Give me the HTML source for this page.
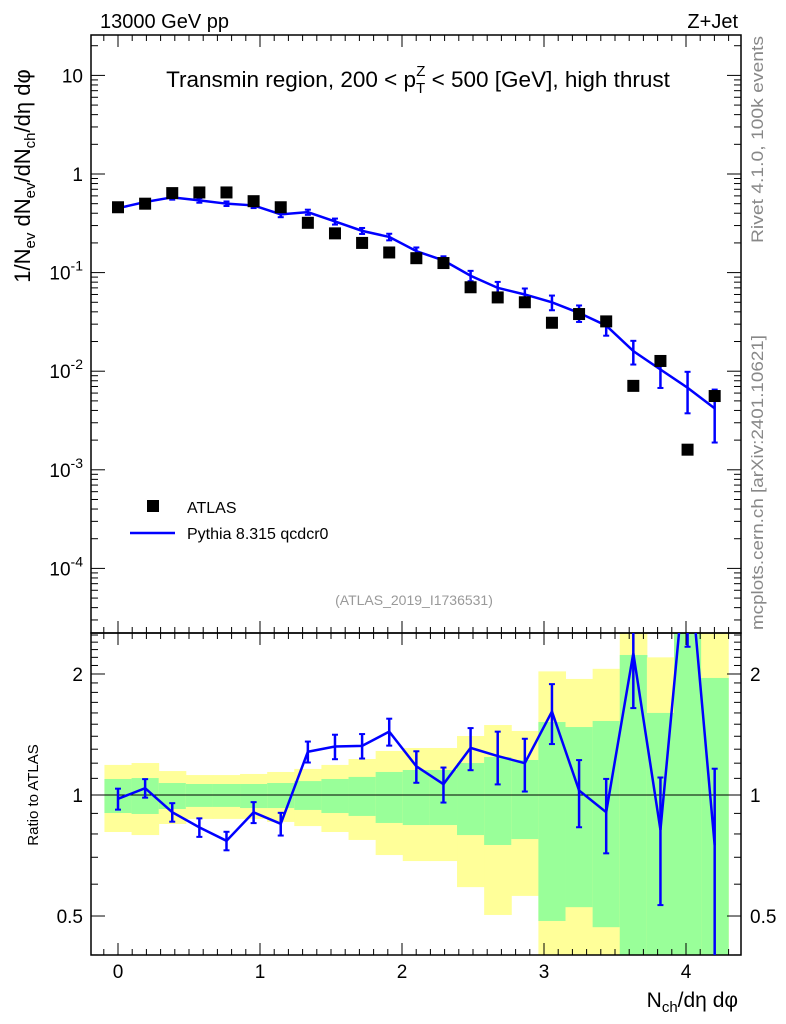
<!DOCTYPE html>
<html><head><meta charset="utf-8">
<style>
body{margin:0;background:#fff;}
svg{display:block;font-family:"Liberation Sans",Arial,sans-serif;}
</style></head>
<body>
<svg id="c" width="786" height="1024" viewBox="0 0 786 1024" xmlns="http://www.w3.org/2000/svg">
<text x="100" y="28" font-size="20">13000 GeV pp</text>
<text x="738" y="28" font-size="20" text-anchor="end">Z+Jet</text>
<text x="418" y="87" font-size="22.5" text-anchor="middle">Transmin region, 200 &lt; p<tspan font-size="15" dy="6">T</tspan><tspan font-size="15" dx="-9" dy="-17">Z</tspan><tspan dy="11"> &lt; 500 [GeV], high thrust</tspan></text>
<text transform="translate(763,243) rotate(-90)" font-size="17" fill="#888" textLength="207" lengthAdjust="spacingAndGlyphs">Rivet 4.1.0,  100k events</text>
<text transform="translate(763,630) rotate(-90)" font-size="17" fill="#888" textLength="295" lengthAdjust="spacingAndGlyphs">mcplots.cern.ch [arXiv:2401.10621]</text>
<text x="414" y="605" font-size="14" fill="#999" text-anchor="middle">(ATLAS_2019_I1736531)</text>
<text transform="translate(30,176) rotate(-90)" font-size="22" text-anchor="middle">1/N<tspan font-size="15" dy="5">ev</tspan><tspan dy="-5"> dN</tspan><tspan font-size="15" dy="5">ev</tspan><tspan dy="-5">/dN</tspan><tspan font-size="15" dy="5">ch</tspan><tspan dy="-5">/dη dφ</tspan></text>
<text transform="translate(38,795) rotate(-90)" font-size="15" text-anchor="middle">Ratio to ATLAS</text>
<text x="738" y="1007" font-size="21" text-anchor="end">N<tspan font-size="15" dy="5">ch</tspan><tspan dy="-5">/dη dφ</tspan></text>
<g id="bands"></g><g id="grid"></g><g id="marks"></g>
<g>
<rect x="147" y="500" width="12" height="12" fill="#000"/>
<text x="187" y="513" font-size="16">ATLAS</text>
<line x1="130" y1="533" x2="175" y2="533" stroke="#0000ff" stroke-width="2.5"/>
<text x="187" y="539" font-size="16">Pythia 8.315 qcdcr0</text>
</g>
</svg>
<script>
const xs=[0,0.191,0.382,0.573,0.764,0.955,1.146,1.337,1.528,1.719,1.91,2.101,2.292,2.483,2.674,2.865,3.056,3.247,3.438,3.629,3.82,4.011,4.202];
const atlas=[0.46,0.50,0.64,0.65,0.65,0.53,0.46,0.32,0.25,0.20,0.16,0.14,0.125,0.071,0.056,0.050,0.031,0.038,0.032,0.0071,0.0127,0.0016,0.0056];
const pythia=[0.45,0.52,0.58,0.54,0.50,0.48,0.39,0.41,0.33,0.265,0.23,0.165,0.133,0.093,0.07,0.06,0.05,0.039,0.029,0.0160,0.0104,0.0068,0.0042];
const pythiaErr=[0.06,0.053,0.053,0.053,0.053,0.06,0.065,0.06,0.07,0.07,0.077,0.09,0.1,0.12,0.15,0.15,0.17,0.19,0.21,0.27,0.35,0.45,0.55];
const greenUp=[1.096,1.102,1.071,1.065,1.065,1.065,1.071,1.083,1.096,1.109,1.141,1.154,1.154,1.201,1.243,1.222,1.519,1.476,1.528,2.23,1.6,3,1.955];
const greenDn=[0.902,0.897,0.923,0.934,0.934,0.928,0.928,0.918,0.902,0.887,0.852,0.842,0.842,0.795,0.751,0.777,0.486,0.526,0.469,0.3,0.3,0.3,0.3];
const yellowUp=[1.188,1.201,1.147,1.121,1.121,1.128,1.141,1.161,1.188,1.229,1.287,1.309,1.309,1.402,1.493,1.443,2.03,1.944,2.06,3,2.2,3,3];
const yellowDn=[0.809,0.795,0.847,0.872,0.872,0.872,0.857,0.837,0.809,0.773,0.709,0.685,0.685,0.590,0.503,0.561,0.3,0.3,0.3,0.3,0.3,0.3,0.3];
const xTicks=[0,1,2,3,4];
const yTicks=[10,1,0.1,0.01,0.001,0.0001];
const yTickLabels=["10","1","10^-1","10^-2","10^-3","10^-4"];
const rTicks=[0.5,1,2];

const NS="http://www.w3.org/2000/svg";
const L=91,R=741,T=35,M=633,B=955;
const X=v=>118+(v)*142;
const Y=v=>174-Math.log10(v)*98.6;
const RY=v=>795-Math.log10(v)*402;
const clampR=y=>Math.max(M,Math.min(B,y));
function el(p,t,a){const e=document.createElementNS(NS,t);for(const k in a)e.setAttribute(k,a[k]);p.appendChild(e);return e;}
const bands=document.getElementById('bands'),grid=document.getElementById('grid'),marks=document.getElementById('marks');
const hw=0.0955*142;
xs.forEach((x,i)=>{
  let y1=clampR(RY(yellowUp[i])),y2=clampR(RY(yellowDn[i]));
  let r=el(bands,'rect',{x:X(x)-hw,y:y1,width:2*hw+0.5,height:y2-y1,fill:'#ffff99'});
  
  
  let g1=clampR(RY(greenUp[i])),g2=clampR(RY(greenDn[i]));
  let g=el(bands,'rect',{x:X(x)-hw,y:g1,width:2*hw+0.5,height:g2-g1,fill:'#99ff99'});
  
  
});
let f1=el(grid,'rect',{x:L,y:T,width:R-L,height:M-T,fill:'none',stroke:'#000','stroke-width':1.5});


let f2=el(grid,'rect',{x:L,y:M,width:R-L,height:B-M,fill:'none',stroke:'#000','stroke-width':1.5});


let one=el(grid,'line',{x1:L,x2:R,y1:RY(1),y2:RY(1),stroke:'#000','stroke-width':1});


for(let k=-1;k<=43;k++){const v=k/10;const px=X(v);if(px<L||px>R)continue;const maj=k%10===0;const len=maj?12:6;
 [T,M].forEach(y0=>{el(grid,'line',{x1:px,x2:px,y1:y0,y2:y0+len,stroke:'#000'});});
 [M,B].forEach(y0=>{el(grid,'line',{x1:px,x2:px,y1:y0,y2:y0-len,stroke:'#000'});});
}
xTicks.forEach(v=>{const t=el(grid,'text',{x:X(v),y:978,'font-size':19,'text-anchor':'middle'});t.textContent=v;
 
 });
for(let d=-5;d<=1;d++){for(let m=1;m<10;m++){const v=m*Math.pow(10,d);const py=Y(v);if(py<T||py>M)continue;const len=m===1?14:7;
 el(grid,'line',{x1:L,x2:L+len,y1:py,y2:py,stroke:'#000'});el(grid,'line',{x1:R,x2:R-len,y1:py,y2:py,stroke:'#000'});}}
yTicks.forEach((v,i)=>{const lab=yTickLabels[i];const t=el(grid,'text',{x:83,y:Y(v)+7,'font-size':19,'text-anchor':'end'});
 if(lab.includes('^')){const [b,e]=lab.split('^');t.textContent=b;const s=el(t,'tspan',{'font-size':14,dy:-9});s.textContent=e;}else t.textContent=lab;
 
 });
for(let k=4;k<=25;k++){const v=k/10;const py=RY(v);if(py<M||py>B)continue;const maj=(k===5||k===10||k===20);const len=maj?14:7;
 el(grid,'line',{x1:L,x2:L+len,y1:py,y2:py,stroke:'#000'});el(grid,'line',{x1:R,x2:R-len,y1:py,y2:py,stroke:'#000'});}
rTicks.forEach(v=>{[[83,'end'],[750,'start']].forEach(([x,a])=>{const t=el(grid,'text',{x:x,y:RY(v)+7,'font-size':19,'text-anchor':a});t.textContent=v;
 
 });});
let pts=xs.map((x,i)=>X(x)+','+Y(pythia[i])).join(' ');
let pl=el(marks,'polyline',{points:pts,fill:'none',stroke:'#0000ff','stroke-width':2.5});


xs.forEach((x,i)=>{const up=Y(pythia[i]*(1+pythiaErr[i])),dn=Math.min(M,Y(pythia[i]*(1-pythiaErr[i])));
 const e=el(marks,'line',{x1:X(x),x2:X(x),y1:up,y2:dn,stroke:'#0000ff','stroke-width':2.5});
 
 
 [up,dn].forEach(y=>el(marks,'line',{x1:X(x)-3,x2:X(x)+3,y1:y,y2:y,stroke:'#0000ff','stroke-width':2}));
 const s=el(marks,'rect',{x:X(x)-6,y:Y(atlas[i])-6,width:12,height:12,fill:'#000'});
 
 
});
const clip=el(document.getElementById('c'),'clipPath',{id:'rc'});el(clip,'rect',{x:L,y:M,width:R-L,height:B-M});
const rg=el(marks,'g',{'clip-path':'url(#rc)'});
const ratio=xs.map((x,i)=>pythia[i]/atlas[i]);
let rl=el(rg,'polyline',{points:xs.map((x,i)=>X(x)+','+RY(ratio[i])).join(' '),fill:'none',stroke:'#0000ff','stroke-width':2.5});


xs.forEach((x,i)=>{const up=RY(ratio[i]*(1+pythiaErr[i])),dn=RY(ratio[i]*Math.max(0.01,1-pythiaErr[i]));
 const e=el(rg,'line',{x1:X(x),x2:X(x),y1:up,y2:dn,stroke:'#0000ff','stroke-width':2.5});
 
 
 [up,dn].forEach(y=>el(rg,'line',{x1:X(x)-3,x2:X(x)+3,y1:y,y2:y,stroke:'#0000ff','stroke-width':2}));
});
</script>
</body></html>
